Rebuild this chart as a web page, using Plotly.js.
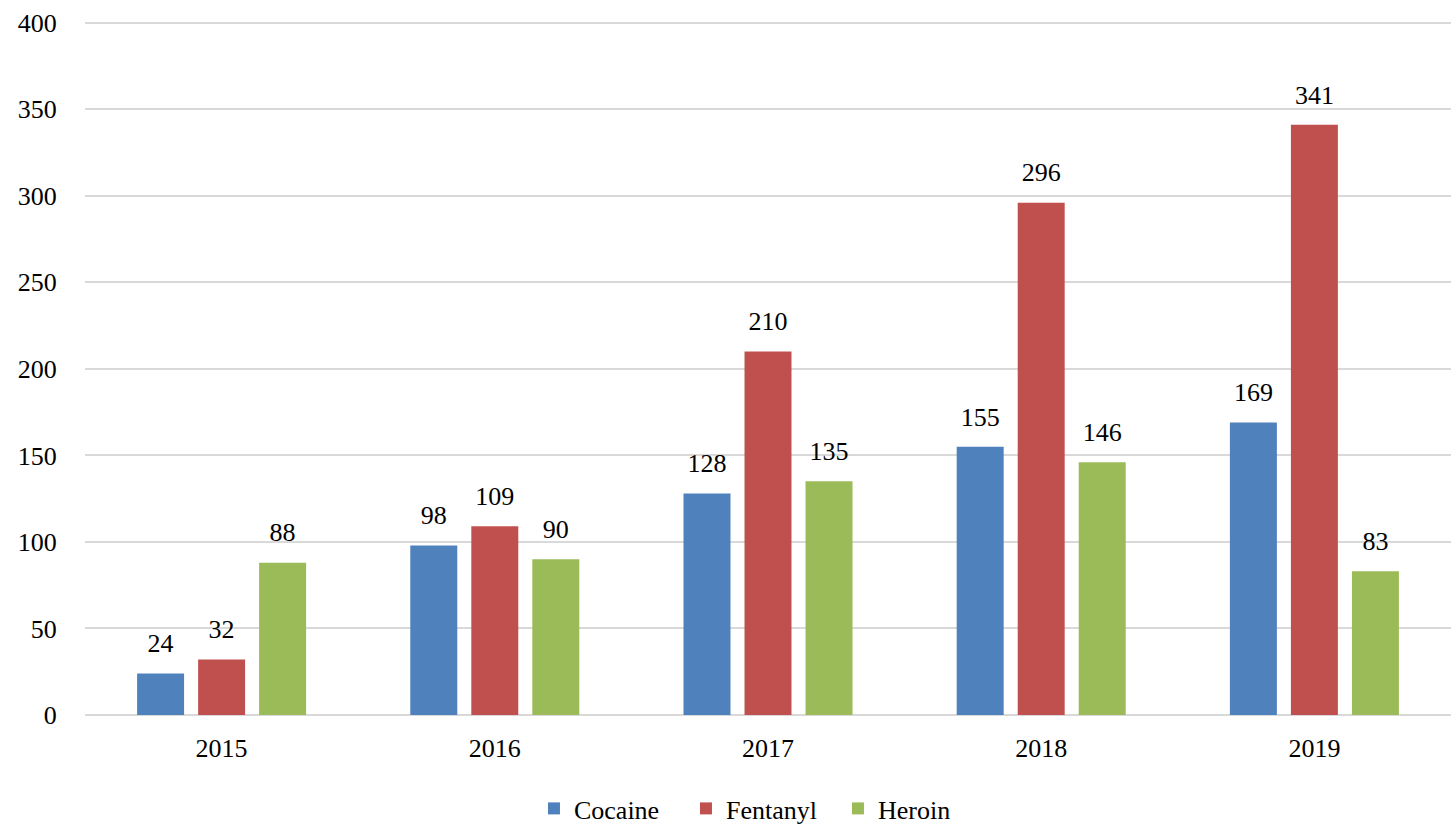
<!DOCTYPE html>
<html>
<head>
<meta charset="utf-8">
<script src="https://cdn.plot.ly/plotly-3.0.1.min.js"></script>
<style>html,body{margin:0;padding:0;background:#fff;}#chart{width:1451px;height:825px;}</style>
</head>
<body>
<div id="chart"></div>
<script>
const years = ["2015", "2016", "2017", "2018", "2019"];
const cocaine = [24, 98, 128, 155, 169];
const fentanyl = [32, 109, 210, 296, 341];
const heroin = [88, 90, 135, 146, 83];
const seriesNames = ["Cocaine", "Fentanyl", "Heroin"];
const colors = ["#4F81BD", "#C0504D", "#9BBB59"];
const values = [cocaine, fentanyl, heroin];
const FONT = "'Liberation Serif', 'Times New Roman', Times, serif";

const bars = values.map((v, i) => ({
  type: "bar",
  name: seriesNames[i],
  x: years,
  y: v,
  offsetgroup: String(i),
  marker: {color: colors[i]},
  hoverinfo: "skip"
}));
const labels = values.map((v, i) => ({
  type: "scatter",
  mode: "markers+text",
  x: years,
  y: v,
  offsetgroup: String(i),
  text: v.map(String),
  textposition: "top center",
  textfont: {family: FONT, size: 26, color: "#000"},
  marker: {size: 22, opacity: 0},
  showlegend: false,
  cliponaxis: false,
  hoverinfo: "skip"
}));

const layout = {
  width: 1451, height: 825,
  margin: {l: 85, r: 0, t: 21, b: 110, autoexpand: false},
  paper_bgcolor: "#fff", plot_bgcolor: "#fff",
  font: {family: FONT, size: 26, color: "#000"},
  barmode: "group",
  scattermode: "group",
  bargap: 0.33,
  bargroupgap: 0.23,
  showlegend: true,
  legend: {orientation: "h", x: 0.368, xanchor: "left", xref: "container",
           y: 0.02, yanchor: "middle", yref: "container", entrywidth: 107,
           font: {family: FONT, size: 26}, traceorder: "normal", itemwidth: 30},
  xaxis: {showgrid: false, showline: false, ticks: "outside", ticklen: 10, tickcolor: "rgba(0,0,0,0)",
          tickfont: {size: 26}, automargin: false},
  yaxis: {range: [0, 401], dtick: 50, showgrid: true, gridcolor: "#d9d9d9", gridwidth: 2,
          zeroline: true, zerolinecolor: "#d9d9d9", zerolinewidth: 2, automargin: false,
          showline: false, ticks: "outside", ticklen: 22, tickcolor: "rgba(0,0,0,0)", tickfont: {size: 26}}
};
Plotly.newPlot("chart", bars.concat(labels), layout, {displayModeBar: false, staticPlot: true});
</script>
</body>
</html>
